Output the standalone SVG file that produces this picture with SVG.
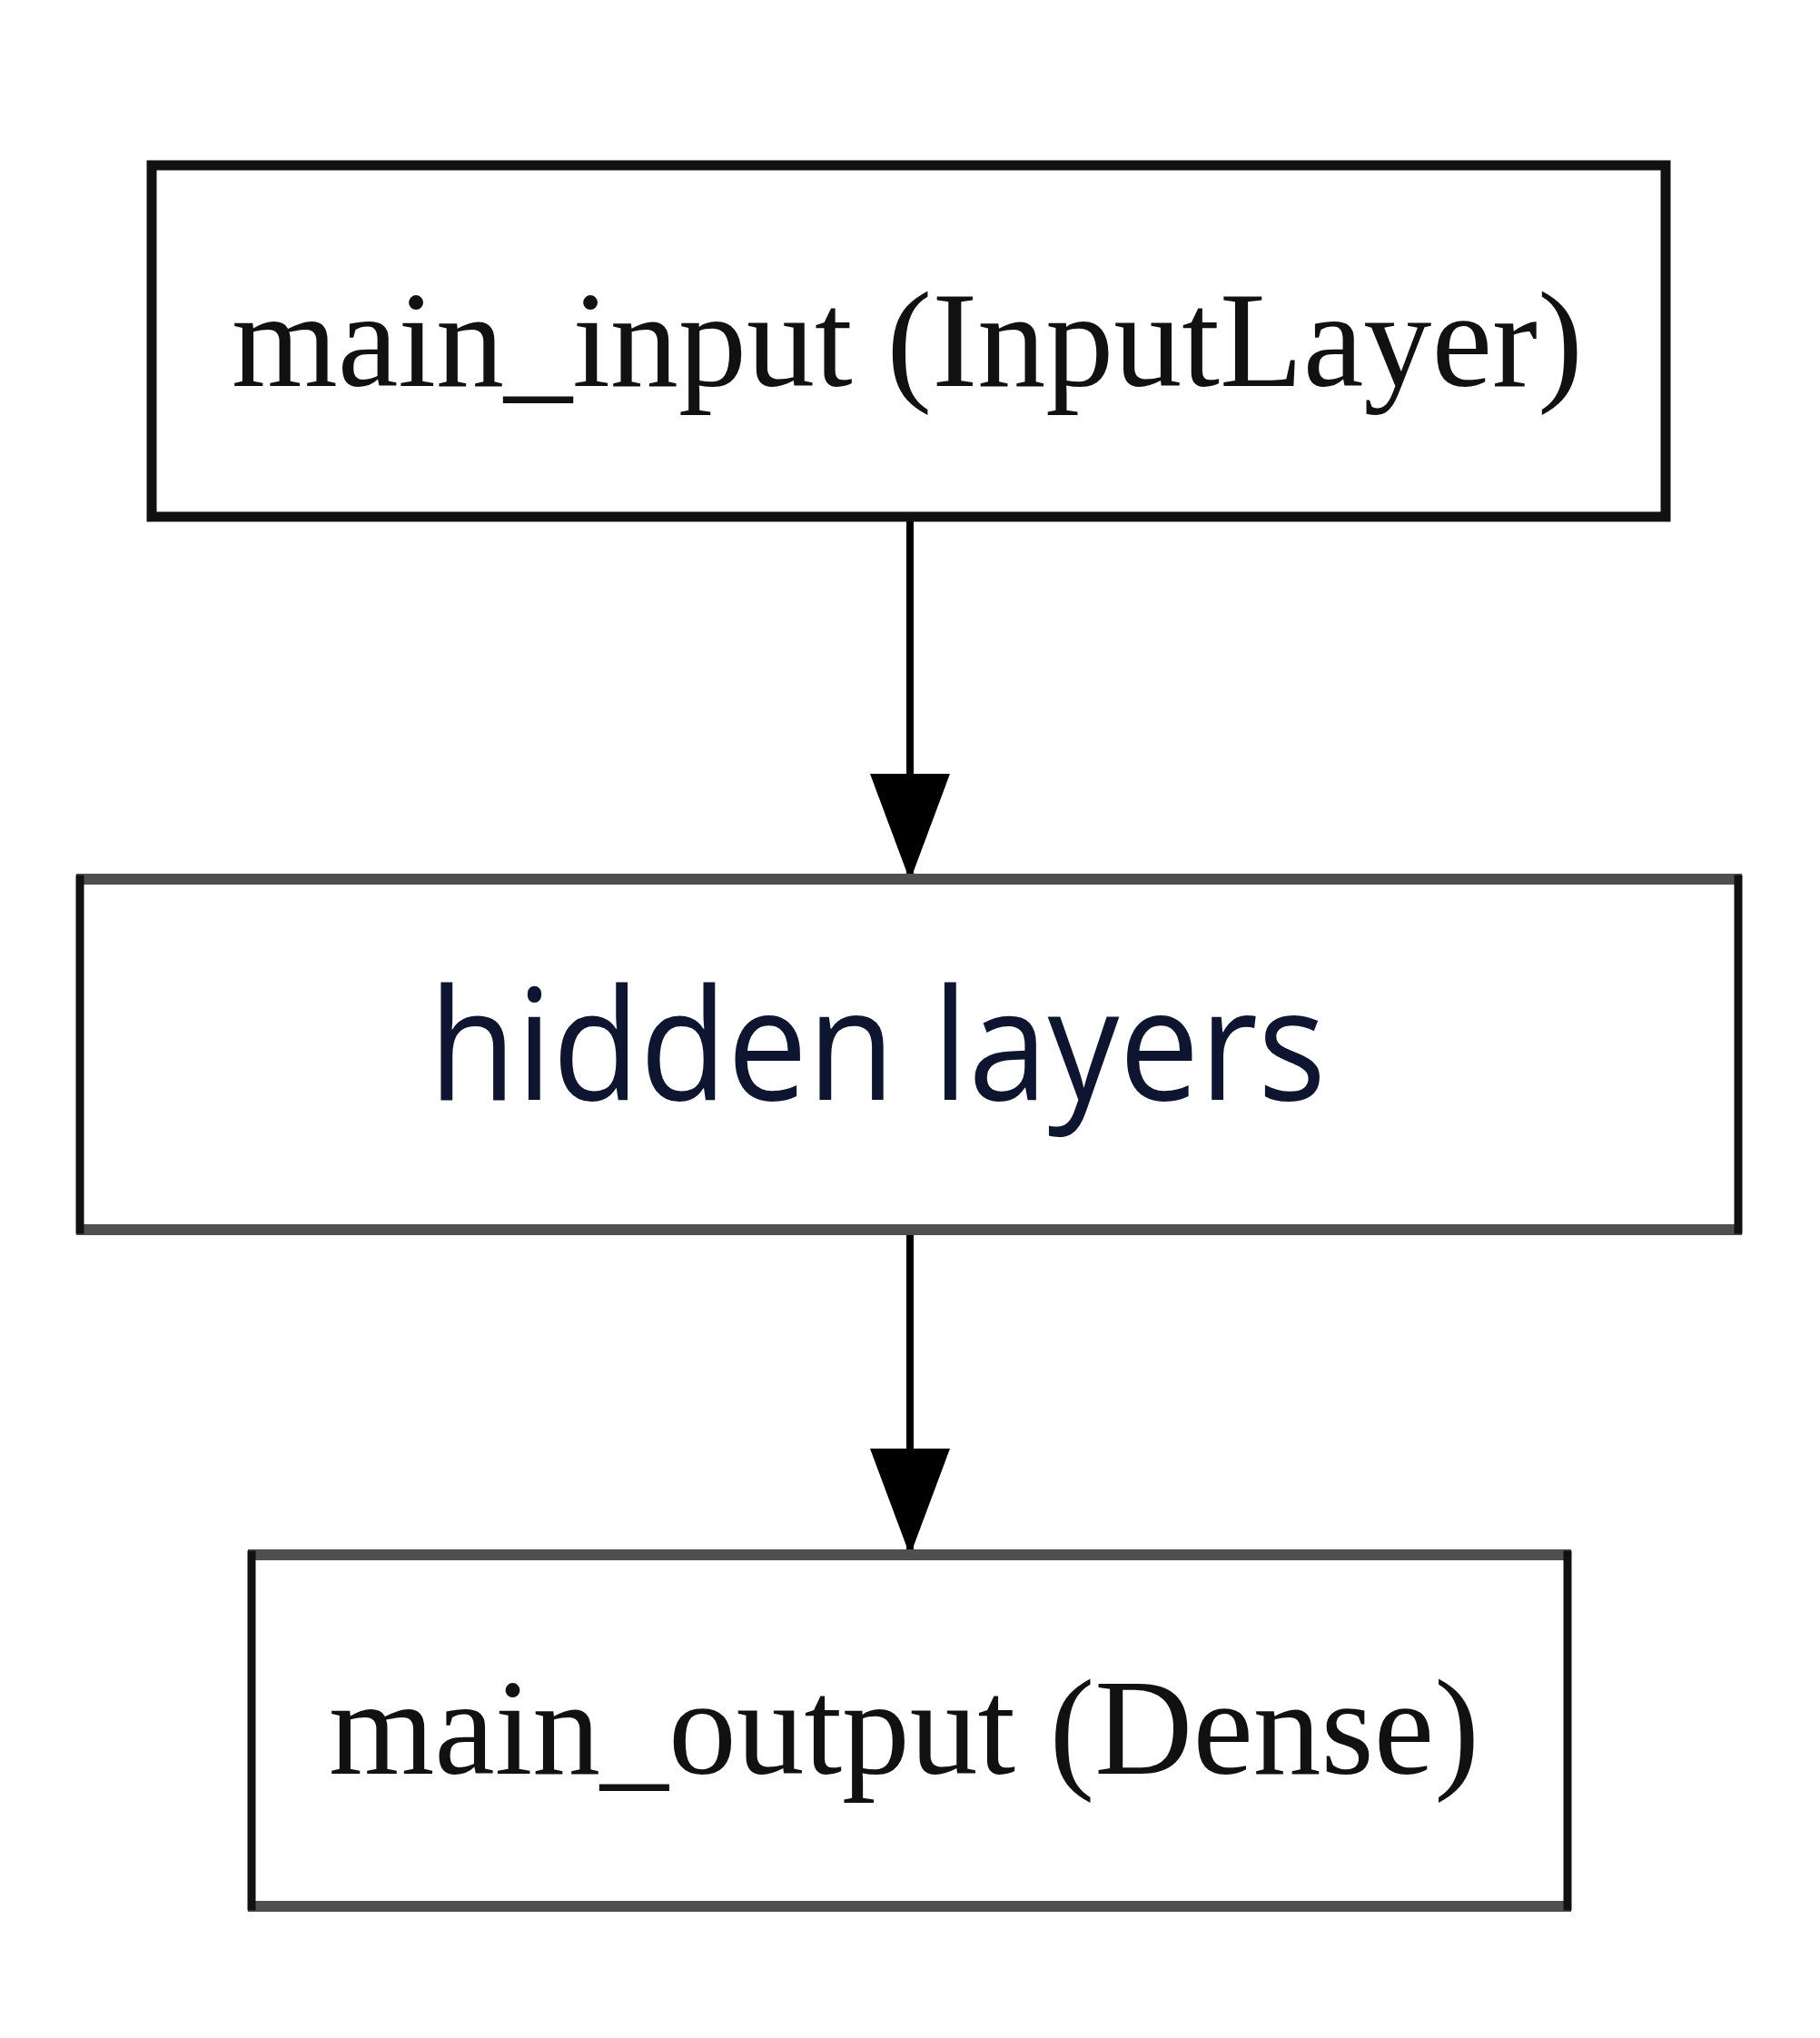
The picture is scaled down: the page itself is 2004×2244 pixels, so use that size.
<svg xmlns="http://www.w3.org/2000/svg" width="2004" height="2244" viewBox="0 0 2004 2244">
<style>
.fillw{fill:#ffffff;stroke:none}
.hb{fill:none;stroke:#4f4f4f;stroke-width:12}
.vb{fill:none;stroke:#111111;stroke-width:9;stroke-linecap:square}
.bk{fill:none;stroke:#111111;stroke-width:11}
.serif{font-family:"Liberation Serif","Times New Roman",serif;font-size:150px;fill:#111111}
.sans{font-family:"Open Sans","Noto Sans",sans-serif;font-size:170px;fill:#0d1530}
.edge{stroke:#000000;stroke-width:8;fill:none}
</style>
<defs>
<marker id="arr" markerUnits="userSpaceOnUse" markerWidth="130" markerHeight="100" refX="118" refY="44" orient="auto">
<path d="M0,0 L118,44 L0,88 Z" fill="#000000"/>
</marker>
</defs>
<rect width="2004" height="2244" fill="#ffffff"/>
<g id="connectors">
<line class="edge" x1="1002" y1="570" x2="1002" y2="970" marker-end="url(#arr)"/>
<line class="edge" x1="1002" y1="1356" x2="1002" y2="1713" marker-end="url(#arr)"/>
</g>
<g id="node-main-input">
<rect class="fillw" x="167" y="182" width="1667" height="387"/>
<rect class="bk" x="167" y="182" width="1667" height="387"/>
<text class="serif" x="255" y="425" textLength="1488" lengthAdjust="spacingAndGlyphs">main_input (InputLayer)</text>
</g>
<g id="node-hidden-layers">
<rect class="fillw" x="88" y="968" width="1826" height="386"/>
<path class="hb" d="M84,968 H1918 M84,1354 H1918"/>
<path class="vb" d="M88,968 V1354 M1914,968 V1354"/>
<text class="sans" x="472" y="1211" textLength="988" lengthAdjust="spacingAndGlyphs">hidden layers</text>
</g>
<g id="node-main-output">
<rect class="fillw" x="277" y="1712" width="1449" height="387"/>
<path class="hb" d="M273,1712 H1730 M273,2099 H1730"/>
<path class="vb" d="M277,1712 V2099 M1726,1712 V2099"/>
<text class="serif" x="362" y="1953" textLength="1267" lengthAdjust="spacingAndGlyphs">main_output (Dense)</text>
</g>
</svg>
